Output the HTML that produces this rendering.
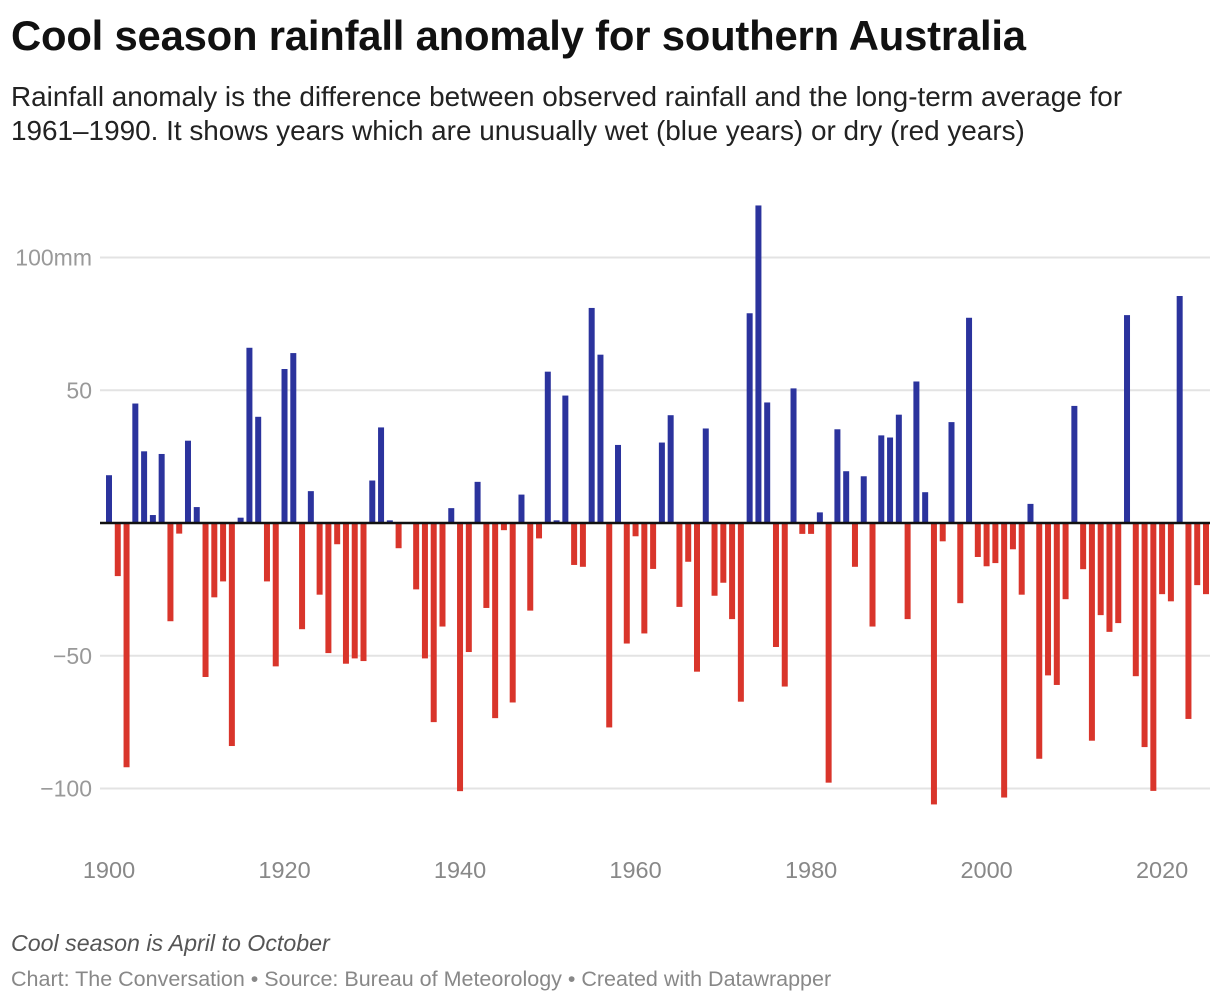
<!DOCTYPE html>
<html><head><meta charset="utf-8"><style>
body{margin:0;background:#fff;font-family:"Liberation Sans",sans-serif;}
.wrap{position:relative;width:1220px;height:1004px;overflow:hidden;}
h1{position:absolute;left:11px;top:12px;margin:0;font-size:41.8px;font-weight:bold;color:#111;letter-spacing:-0.2px;white-space:nowrap;}
.sub{position:absolute;left:11px;top:80px;margin:0;font-size:27.9px;line-height:34px;color:#222;width:1210px;white-space:nowrap;}
.note{position:absolute;left:11px;top:930px;font-size:23.2px;font-style:italic;color:#555;white-space:nowrap;}
.src{position:absolute;left:11px;top:967px;font-size:21.5px;color:#888;white-space:nowrap;}
</style></head><body>
<div class="wrap">
<h1>Cool season rainfall anomaly for southern Australia</h1>
<p class="sub">Rainfall anomaly is the difference between observed rainfall and the long-term average for<br>1961–1990. It shows years which are unusually wet (blue years) or dry (red years)</p>
<svg id="chart" width="1220" height="1004" style="position:absolute;left:0;top:0"></svg>
<div class="note">Cool season is April to October</div>
<div class="src">Chart: The Conversation • Source: Bureau of Meteorology • Created with Datawrapper</div>
</div>
<script>
const startYear = 1900;
const anomalies = [18,-20,-92,45,27,3,26,-37,-4,31,6,-58,-28,-22,-84,2,66,40,-22,-54,
58,64,-40,12,-27,-49,-8,-53,-51,-52,16,36,1,-9.5,0,-25,-51,-75,-39,5.6,
-101,-48.6,15.5,-32,-73.5,-2.7,-67.6,10.7,-33,-5.8,57,1,48,-15.8,-16.5,81,63.4,-77,29.4,-45.4,
-5,-41.6,-17.3,30.3,40.6,-31.6,-14.6,-56,35.6,-27.4,-22.5,-36.2,-67.3,79,119.6,45.4,-46.7,-61.6,50.7,-4.1,
-4.1,4,-97.8,35.3,19.5,-16.5,17.6,-39,33,32.2,40.8,-36.2,53.3,11.6,-106,-6.9,38,-30.2,77.3,-12.8,
-16.3,-15.1,-103.4,-9.9,-27,7.2,-88.8,-57.4,-61,-28.7,44.1,-17.4,-82,-34.7,-41,-37.7,78.3,-57.7,-84.4,-100.9,
-26.8,-29.5,85.5,-73.8,-23.4,-26.8];
const yTicks = [100,50,-50,-100];
const yTickLabels = ["100mm","50","−50","−100"];
const xTicks = [1900,1920,1940,1960,1980,2000,2020];

const NS="http://www.w3.org/2000/svg";
const svg=document.getElementById('chart');
const zeroY=523, pxPerMm=2.655;
const x0=109, step=8.776, barW=6;
const y=v=>zeroY - v*pxPerMm;
const x=yr=>x0+(yr-startYear)*step;
function mk(t,a){const e=document.createElementNS(NS,t);for(const k in a)e.setAttribute(k,a[k]);svg.appendChild(e);return e;}

yTicks.forEach((t,i)=>{
  const g=mk('line',{x1:100,x2:1210,y1:y(t),y2:y(t),stroke:'#e3e3e3','stroke-width':2});
  
  
  const l=mk('text',{x:92,y:y(t)+8,'text-anchor':'end','font-size':23,fill:'#999','font-family':'Liberation Sans, sans-serif'});
  l.textContent=yTickLabels[i];
  
  
});
anomalies.forEach((v,i)=>{
  const yr=startYear+i;
  if(v===0) return;
  const top=v>0?y(v):zeroY, h=Math.abs(v)*pxPerMm;
  const r=mk('rect',{x:x(yr)-barW/2,y:top,width:barW,height:h,fill:v>0?'#2b339d':'#d9352b'});
  
  
});
const z=mk('line',{x1:100,x2:1210,y1:zeroY,y2:zeroY,stroke:'#111','stroke-width':2.5});


xTicks.forEach(t=>{
  const l=mk('text',{x:x(t),y:878,'text-anchor':'middle','font-size':23.5,fill:'#888','font-family':'Liberation Sans, sans-serif'});
  l.textContent=t;
  
  
});
</script>
</body></html>
